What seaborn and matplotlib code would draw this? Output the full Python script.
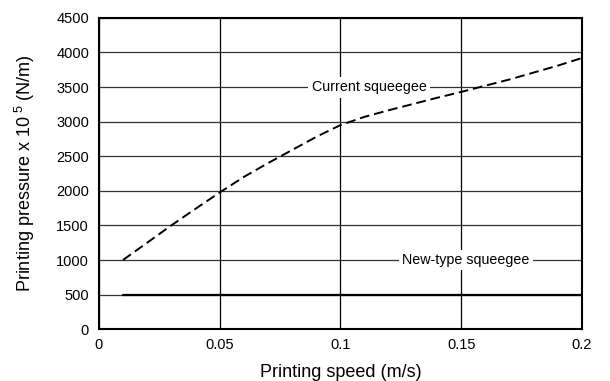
import matplotlib
matplotlib.use('Agg')
import matplotlib.pyplot as plt
import pandas as pd
import seaborn as sns

speed = [0.01, 0.02, 0.03, 0.04, 0.05, 0.06, 0.07, 0.08, 0.09, 0.10,
         0.11, 0.12, 0.13, 0.14, 0.15, 0.16, 0.17, 0.18, 0.19, 0.20]
current = [1000, 1250, 1500, 1740, 1975, 2200, 2400, 2590, 2780, 2950,
           3070, 3165, 3255, 3345, 3430, 3520, 3610, 3710, 3810, 3920]
new_speed = [0.01, 0.20]
new_type = [500, 500]

sns.set_style('white')
plt.rcParams['font.family'] = ['Liberation Sans', 'DejaVu Sans']
plt.rcParams['text.color'] = 'black'
plt.rcParams['axes.labelcolor'] = 'black'
plt.rcParams['xtick.color'] = 'black'
plt.rcParams['ytick.color'] = 'black'

fig = plt.figure(figsize=(6.1, 3.81), dpi=100)
ax = fig.add_axes([0.162, 0.136, 0.792, 0.817])

cur = pd.DataFrame({'speed': speed, 'pressure': current})
new = pd.DataFrame({'speed': new_speed, 'pressure': new_type})
sns.lineplot(data=cur, x='speed', y='pressure', ax=ax, color='black',
             linestyle=(0, (5, 2.5)), linewidth=1.4, zorder=3)
sns.lineplot(data=new, x='speed', y='pressure', ax=ax, color='black',
             linewidth=1.6, zorder=3)

ax.set_xlim(0, 0.2)
ax.set_ylim(0, 4500)
ax.set_xticks([0, 0.05, 0.1, 0.15, 0.2])
ax.set_xticklabels(['0', '0.05', '0.1', '0.15', '0.2'])
ax.set_yticks(range(0, 4501, 500))
ax.yaxis.grid(True, color='#333333', linewidth=0.9)
ax.xaxis.grid(True, color='black', linewidth=0.9)
ax.set_axisbelow(True)
ax.tick_params(axis='y', length=0, labelsize=10.5, pad=7)
ax.tick_params(axis='x', length=0, labelsize=10.5, pad=6)
for s in ax.spines.values():
    s.set_color('black')
    s.set_linewidth(1.5)

ax.set_xlabel('Printing speed (m/s)', fontsize=13, labelpad=9)
ax.set_ylabel('Printing pressure x 10$^{\\mathregular{\\ 5}}$ (N/m)', fontsize=13, labelpad=14)

box = dict(facecolor='white', edgecolor='none', pad=2.5)
ax.text(0.112, 3500, 'Current squeegee', ha='center', va='center', fontsize=10.3,
        bbox=box, zorder=4)
ax.text(0.152, 1000, 'New-type squeegee', ha='center', va='center', fontsize=10.3,
        bbox=box, zorder=4)

fig.savefig('out.png', dpi=100)
